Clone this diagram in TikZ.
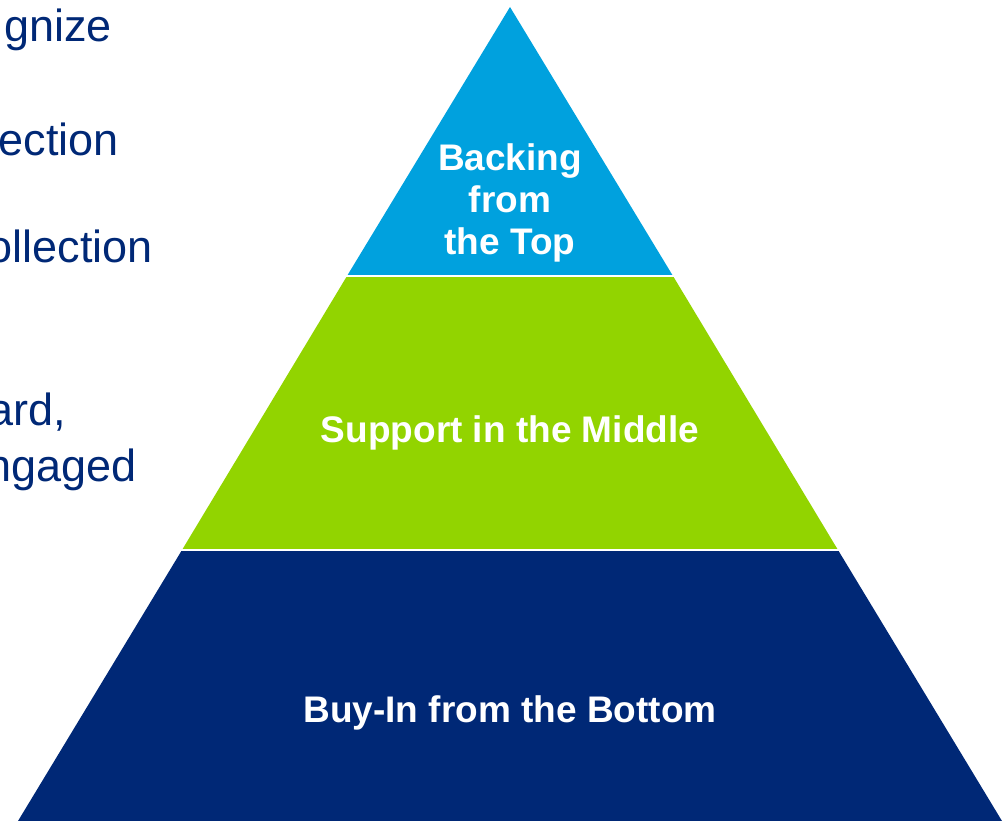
\documentclass[tikz,border=0pt]{standalone}
\usepackage{fontspec}
\setmainfont{Liberation Sans}
\usetikzlibrary{positioning}

\definecolor{pyrcyan}{RGB}{0,161,222}
\definecolor{pyrgreen}{RGB}{146,212,0}
\definecolor{pyrnavy}{RGB}{0,40,118}

\begin{document}
\begin{tikzpicture}[
  x=1pt, y=-1pt,
  gap/.style={draw=white, line width=2.6pt},
  lbl/.style={text=white, font=\fontsize{37}{42}\selectfont\bfseries, align=center, inner sep=0pt},
  side/.style={text=pyrnavy, font=\fontsize{45}{52}\selectfont, anchor=base east, inner sep=0pt},
]
\useasboundingbox (0,0) rectangle (1006,821);
\clip (0,0) rectangle (1006,821);

% --- Pyramid outline ---
\coordinate (apex) at (510,7);
\coordinate (tl) at (347,276);
\coordinate (tr) at (673,276);
\coordinate (ml) at (182,550);
\coordinate (mr) at (838,550);
\coordinate (bl) at (18,821);
\coordinate (br) at (1002,821);

% --- Bands ---
\fill[pyrcyan]  (apex) -- (tr) -- (tl) -- cycle;
\fill[pyrgreen] (tl) -- (tr) -- (mr) -- (ml) -- cycle;
\fill[pyrnavy]  (ml) -- (mr) -- (br) -- (bl) -- cycle;
\draw[gap] ([xshift=-6pt]tl) -- ([xshift=6pt]tr);
\draw[gap] ([xshift=-6pt]ml) -- ([xshift=6pt]mr);

% --- Band labels ---
\node[lbl] (top) at (510,203) {Backing\\from\\the Top};
\node[lbl] (mid) at (510,433) {Support in the Middle};
\node[lbl] (bot) at (510,713) {Buy-In from the Bottom};

% --- Side text ---
\node[side] (s1) at (112,42)  {gnize};
\node[side] (s2) at (119,156) {ection};
\node[side] (s3) at (153,262) {ollection};
\node[side] (s4) at (66,425)  {ard,};
\node[side] (s5) at (137,481) {ngaged};
\end{tikzpicture}
\end{document}
